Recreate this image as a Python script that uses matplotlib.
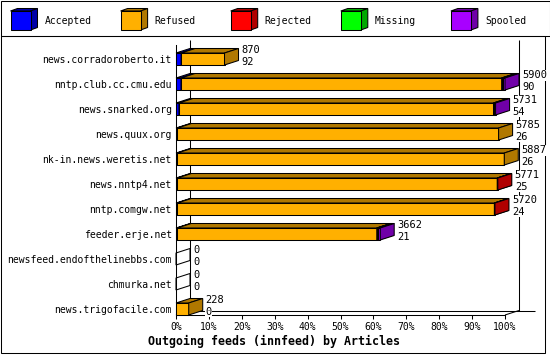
import matplotlib
matplotlib.use('Agg')
import matplotlib.pyplot as plt
from matplotlib.patches import Polygon, Rectangle

# ---------------- data ----------------
feeds = ["news.corradoroberto.it", "nntp.club.cc.cmu.edu", "news.snarked.org",
         "news.quux.org", "nk-in.news.weretis.net", "news.nntp4.net",
         "nntp.comgw.net", "feeder.erje.net", "newsfeed.endofthelinebbs.com",
         "chmurka.net", "news.trigofacile.com"]
offered = [870, 5900, 5731, 5785, 5887, 5771, 5720, 3662, 0, 0, 228]
accepted = [92, 90, 54, 26, 26, 25, 24, 21, 0, 0, 0]
refused = [778, 5750, 5640, 5759, 5861, 5736, 5686, 3580, 0, 0, 228]
rejected = [0, 25, 0, 0, 0, 10, 10, 18, 0, 0, 0]
missing = [0, 0, 0, 0, 0, 0, 0, 0, 0, 0, 0]
spooled = [0, 35, 37, 0, 0, 0, 0, 43, 0, 0, 0]
series_names = ["Accepted", "Refused", "Rejected", "Missing", "Spooled"]
pct_ticks = [0, 10, 20, 30, 40, 50, 60, 70, 80, 90, 100]
title = "Outgoing feeds (innfeed) by Articles"

# ---------------- style ----------------
colors = ["#0000ff", "#ffb000", "#ff0000", "#00ff00", "#a800ff"]
shades = ["#0000a8", "#b07800", "#b00000", "#00a800", "#7000a8"]
MONO = "DejaVu Sans Mono"
LW = 0.75
W, H = 550, 355
X_LEFT, X_RIGHT, Y_TOP, Y_BOT = 176, 505, 45, 315
DEPTH_X, DEPTH_Y = 14, 4.5   # pixels
BAR_H = 0.48

fig = plt.figure(figsize=(W / 100, H / 100), dpi=100)
fig.patch.set_facecolor("white")

# background / frame + legend axes (pixel coordinates)
bg = fig.add_axes([0, 0, 1, 1])
bg.set_xlim(0, W)
bg.set_ylim(H, 0)
bg.axis("off")
bg.add_patch(Rectangle((0.5, 0.5), 549, 35, fill=False, ec="black", lw=LW))
bg.add_patch(Rectangle((0.5, 35.5), 544, 317, fill=False, ec="black", lw=LW))

for k, name in enumerate(series_names):
    x0 = 10.5 + k * 110.1
    c, s = colors[k], shades[k]
    bg.add_patch(Polygon([(x0, 11), (x0 + 7, 8.5), (x0 + 27, 8.5), (x0 + 20, 11)],
                         closed=True, fc=s, ec="black", lw=LW))
    bg.add_patch(Polygon([(x0 + 20, 11), (x0 + 27, 8.5), (x0 + 27, 27.5), (x0 + 20, 30)],
                         closed=True, fc=s, ec="black", lw=LW))
    bg.add_patch(Rectangle((x0, 11), 20, 19, fc=c, ec="black", lw=LW))
    bg.text(x0 + 34, 20.5, name, ha="left", va="center", fontsize=7, family=MONO)

fig.text(274 / W, 1 - 341.5 / H, title, ha="center", va="center",
         fontsize=8.4, weight="bold", family=MONO)

# ---------------- main axes ----------------
n = len(feeds)
totals = [a + r + j + m + s for a, r, j, m, s in zip(accepted, refused, rejected, missing, spooled)]
xmax = max(totals)

ax = fig.add_axes([X_LEFT / W, 1 - Y_BOT / H, (X_RIGHT - X_LEFT) / W, (Y_BOT - Y_TOP) / H])
ax.set_facecolor("none")
ax.set_xlim(0, xmax)
ax.set_ylim(n - 1 + 0.24, -0.56)

px_x = (X_RIGHT - X_LEFT) / xmax          # pixels per article
px_y = (Y_BOT - Y_TOP) / (n - 1 + 0.24 + 0.56)  # pixels per category unit
dx = DEPTH_X / px_x
dy = -DEPTH_Y / px_y
ybot = n - 1 + 0.24
ytop_back = -0.56 - 5 / px_y

# back wall lines
kw = dict(color="black", lw=LW, clip_on=False, zorder=1, solid_capstyle="butt")
ax.plot([dx, dx], [ybot + dy, ytop_back], **kw)
ax.plot([xmax + dx, xmax + dx], [ybot + dy, ytop_back], **kw)
ax.plot([dx, xmax + dx + 16 / px_x], [ybot + dy, ybot + dy], **kw)
ax.plot([xmax, xmax + dx], [ybot, ybot + dy], **kw)
ax.plot([0, dx], [ybot, ybot + dy], **kw)

# bars
for i in range(n):
    vals = [accepted[i], refused[i], rejected[i], missing[i], spooled[i]]
    y0 = i - BAR_H / 2
    y1 = i + BAR_H / 2
    if totals[i] == 0:
        ax.add_patch(Polygon([(0, y0), (dx, y0 + dy), (dx, y1 + dy), (0, y1)],
                             closed=True, fill=False, ec="black", lw=LW, zorder=2, clip_on=False))
    left = 0
    for v, c, s in zip(vals, colors, shades):
        if v <= 0:
            continue
        r = left + v
        ax.add_patch(Rectangle((left, y0), v, BAR_H, fc=c, ec="black", lw=LW, zorder=2, clip_on=False))
        ax.add_patch(Polygon([(left, y0), (left + dx, y0 + dy), (r + dx, y0 + dy), (r, y0)],
                             closed=True, fc=s, ec="black", lw=LW, zorder=2, clip_on=False))
        ax.add_patch(Polygon([(r, y0), (r + dx, y0 + dy), (r + dx, y1 + dy), (r, y1)],
                             closed=True, fc=s, ec="black", lw=LW, zorder=2, clip_on=False))
        left = r
    lx = totals[i] + dx + 3 / px_x
    bb = dict(facecolor="white", edgecolor="none", pad=0.3)
    ax.text(lx, i - 5.7 / px_y, str(offered[i]), ha="left", va="baseline",
            fontsize=7.5, family=MONO, zorder=3, bbox=bb, clip_on=False)
    ax.text(lx, i + 5.7 / px_y, str(accepted[i]), ha="left", va="baseline",
            fontsize=7.5, family=MONO, zorder=3, bbox=bb, clip_on=False)

# axes decoration
for side in ("top", "right"):
    ax.spines[side].set_visible(False)
for side in ("left", "bottom"):
    ax.spines[side].set_linewidth(LW)
    ax.spines[side].set_zorder(1.5)

ax.set_xticks([xmax * p / 100 for p in pct_ticks])
ax.set_xticklabels([f"{p}%" for p in pct_ticks], family=MONO, fontsize=7)
ax.tick_params(axis="x", length=3, width=LW, pad=2, direction="out")
ax.set_yticks(range(n))
ax.set_yticklabels(feeds, family=MONO, fontsize=7)
ax.tick_params(axis="y", length=0, pad=3)

fig.savefig("out.png", dpi=100, facecolor="white")
